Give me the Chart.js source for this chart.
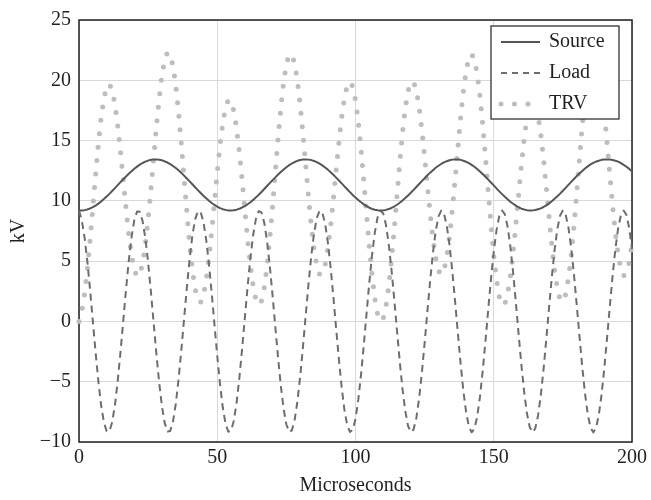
<!DOCTYPE html>
<html>
<head>
<meta charset="utf-8">
<script src="https://cdn.jsdelivr.net/npm/chart.js"></script>
<style>
html,body{margin:0;padding:0;background:#ffffff;}
canvas{display:block;}
</style>
</head>
<body>
<canvas id="c" width="651" height="500"></canvas>
<script>
// ---- data ----
const time = [0,1,2,3,4,5,6,7,8,9,10,11,12,13,14,15,16,17,18,19,20,21,22,23,24,25,26,27,28,29,30,31,32,33,34,35,36,37,38,39,40,41,42,43,44,45,46,47,48,49,50,51,52,53,54,55,56,57,58,59,60,61,62,63,64,65,66,67,68,69,70,71,72,73,74,75,76,77,78,79,80,81,82,83,84,85,86,87,88,89,90,91,92,93,94,95,96,97,98,99,100,101,102,103,104,105,106,107,108,109,110,111,112,113,114,115,116,117,118,119,120,121,122,123,124,125,126,127,128,129,130,131,132,133,134,135,136,137,138,139,140,141,142,143,144,145,146,147,148,149,150,151,152,153,154,155,156,157,158,159,160,161,162,163,164,165,166,167,168,169,170,171,172,173,174,175,176,177,178,179,180,181,182,183,184,185,186,187,188,189,190,191,192,193,194,195,196,197,198,199,200];

const source = [9.20,9.20,9.23,9.29,9.37,9.48,9.61,9.77,9.95,10.15,
10.36,10.58,10.82,11.06,11.30,11.55,11.79,12.02,12.25,12.46,
12.66,12.84,13.00,13.14,13.25,13.34,13.40,13.43,13.44,13.41,
13.36,13.28,13.18,13.05,12.89,12.72,12.53,12.32,12.09,11.86,
11.62,11.38,11.13,10.89,10.65,10.42,10.21,10.01,9.82,9.66,
9.52,9.40,9.31,9.25,9.21,9.20,9.22,9.27,9.34,9.45,
9.57,9.72,9.89,10.08,10.29,10.51,10.74,10.98,11.23,11.47,
11.72,11.95,12.18,12.40,12.60,12.79,12.96,13.10,13.22,13.32,
13.39,13.43,13.44,13.42,13.38,13.31,13.21,13.09,12.94,12.77,
12.59,12.38,12.16,11.93,11.69,11.45,11.20,10.96,10.72,10.49,
10.27,10.07,9.88,9.71,9.56,9.43,9.33,9.26,9.22,9.20,
9.21,9.25,9.32,9.41,9.53,9.68,9.84,10.03,10.23,10.45,
10.67,10.91,11.15,11.40,11.64,11.88,12.12,12.34,12.54,12.74,
12.91,13.06,13.19,13.29,13.37,13.42,13.44,13.43,13.40,13.33,
13.24,13.13,12.99,12.83,12.64,12.44,12.23,12.00,11.76,11.52,
11.28,11.03,10.79,10.56,10.34,10.13,9.93,9.76,9.60,9.47,
9.36,9.28,9.23,9.20,9.21,9.24,9.30,9.38,9.49,9.63,
9.79,9.97,10.17,10.38,10.60,10.84,11.08,11.33,11.57,11.81,
12.05,12.27,12.48,12.68,12.86,13.02,13.15,13.26,13.33,13.40,
13.43,13.44,13.43,13.39,13.33,13.25,13.13,12.99,12.83,12.65,
12.46];

const load = [9.20,8.40,6.99,5.02,2.64,0.04,-2.56,-4.95,-6.94,-8.36,
-9.11,-9.11,-8.36,-6.94,-4.95,-2.56,0.04,2.64,5.02,6.99,
8.40,9.12,9.09,8.33,6.89,4.89,2.48,-0.12,-2.71,-5.09,
-7.04,-8.43,-9.13,-9.08,-8.30,-6.84,-4.82,-2.41,0.20,2.79,
5.15,7.10,8.46,9.14,9.07,8.26,6.78,4.75,2.33,-0.28,
-2.86,-5.22,-7.14,-8.49,-9.15,-9.06,-8.23,-6.73,-4.68,-2.26,
0.36,2.94,5.28,7.19,8.52,9.15,9.04,8.19,6.68,4.61,
2.18,-0.44,-3.01,-5.35,-7.24,-8.55,-9.16,-9.03,-8.16,-6.62,
-4.55,-2.10,0.51,3.09,5.41,7.29,8.58,9.17,9.01,8.12,
6.56,4.48,2.02,-0.59,-3.16,-5.47,-7.34,-8.61,-9.17,-8.99,
-8.08,-6.51,-4.41,-1.95,0.67,3.24,5.54,7.39,8.64,9.18,
8.98,8.04,6.45,4.34,1.87,-0.75,-3.31,-5.60,-7.43,-8.66,
-9.18,-8.96,-8.00,-6.40,-4.27,-1.79,0.83,3.38,5.66,7.48,
8.69,9.19,8.94,7.96,6.34,4.20,1.71,-0.91,-3.46,-5.73,
-7.53,-8.71,-9.19,-8.92,-7.92,-6.28,-4.13,-1.64,0.99,3.53,
5.79,7.57,8.74,9.20,8.90,7.88,6.23,4.06,1.56,-1.07,
-3.60,-5.85,-7.62,-8.76,-9.20,-8.88,-7.84,-6.16,-3.99,-1.48,
1.14,3.68,5.91,7.66,8.79,9.20,8.86,7.80,6.11,3.91,
1.40,-1.22,-3.75,-5.97,-7.70,-8.81,-9.20,-8.84,-7.76,-6.05,
-3.84,-1.32,1.30,3.82,6.03,7.75,8.83,9.20,8.82,7.72,
5.99];

const trv = [0.00,0.80,2.24,4.27,6.73,9.44,12.17,14.72,16.89,18.51,
19.47,19.69,19.18,18.00,16.25,14.11,11.75,9.38,7.23,5.47,
4.26,3.72,3.91,4.81,6.36,8.45,10.92,13.55,16.15,18.50,
20.40,21.71,22.31,22.13,21.19,19.56,17.35,14.73,11.89,9.07,
6.47,4.28,2.67,1.75,1.58,2.16,3.43,5.26,7.49,9.94,
12.38,14.62,16.45,17.74,18.36,18.26,17.45,16.00,14.02,11.71,
9.21,6.78,4.61,2.89,1.77,1.36,1.70,2.79,4.55,6.86,
9.54,12.39,15.19,17.75,19.84,21.34,22.12,22.13,21.38,19.94,
17.94,15.53,12.93,10.33,7.97,6.02,4.63,3.92,3.93,4.65,
6.03,7.90,10.14,12.52,14.85,16.92,18.54,19.57,19.89,19.48,
18.35,16.58,14.29,11.66,8.89,6.19,3.79,1.87,0.58,0.02,
0.23,1.21,2.87,5.07,7.66,10.43,13.15,15.63,17.66,19.11,
19.85,19.87,19.15,17.80,15.91,13.67,11.29,8.96,6.88,5.26,
4.22,3.87,4.25,5.33,7.03,9.22,11.73,14.34,16.86,19.06,
20.77,21.84,22.18,21.75,20.56,18.72,16.36,13.64,10.77,7.99,
5.49,3.46,2.05,1.36,1.44,2.25,3.70,5.70,8.04,10.54,
12.96,15.13,16.85,17.96,18.41,18.12,17.14,15.54,13.48,11.11,
8.65,6.29,4.26,2.72,1.81,1.64,2.22,3.53,5.46,7.90,
10.65,13.49,16.23,18.65,20.56,21.83,22.35,22.10,21.09,19.45,
17.27,14.76,12.13,9.57,7.30,5.50,4.30,3.79,4.01,4.93,
6.47];

const seriesNames = ['Source', 'Load', 'TRV'];
const xTicks = [0, 50, 100, 150, 200];
const yTicks = [-10, -5, 0, 5, 10, 15, 20, 25];
const xTitle = 'Microseconds';
const yTitle = 'kV';

// ---- styles ----
const FONT = "'Liberation Serif', 'Times New Roman', serif";
const INK = '#231f20';
const GRID = '#d9d9d9';
const seriesStyles = [
  {borderColor: '#555555', borderWidth: 2, borderDash: [], borderCapStyle: 'butt', legendDash: []},
  {borderColor: '#6d6d6d', borderWidth: 2, borderDash: [7, 5], borderCapStyle: 'butt', legendDash: [6, 5]},
  {borderColor: '#bdbdbd', borderWidth: 5, borderDash: [0, 13.5], borderCapStyle: 'round', legendDash: [0, 13.5]}
];
const seriesValues = [source, load, trv];

function toPoints(values) {
  return time.map((t, i) => ({x: t, y: values[i]}));
}

const framePlugin = {
  id: 'frame',
  beforeDatasetsDraw(chart) {
    const a = chart.chartArea, ctx = chart.ctx;
    ctx.save();
    ctx.strokeStyle = INK;
    ctx.lineWidth = 1.5;
    ctx.strokeRect(a.left, a.top, a.right - a.left, a.bottom - a.top);
    ctx.restore();
  }
};

const boxLegend = {
  id: 'boxLegend',
  afterDatasetsDraw(chart) {
    const ctx = chart.ctx;
    const L = 491, T = 26, W = 128, H = 93;
    ctx.save();
    ctx.fillStyle = '#ffffff';
    ctx.fillRect(L, T, W, H);
    ctx.strokeStyle = INK;
    ctx.lineWidth = 1.2;
    ctx.strokeRect(L, T, W, H);
    chart.data.datasets.forEach((ds, i) => {
      const y = 42 + i * 31;
      const st = seriesStyles[i];
      ctx.save();
      ctx.strokeStyle = ds.borderColor;
      ctx.lineWidth = ds.borderWidth;
      ctx.setLineDash(st.legendDash);
      ctx.lineCap = ds.borderCapStyle;
      ctx.beginPath();
      ctx.moveTo(501, y);
      ctx.lineTo(540, y);
      ctx.stroke();
      ctx.restore();
      ctx.fillStyle = INK;
      ctx.font = '20px ' + FONT;
      ctx.textBaseline = 'middle';
      ctx.textAlign = 'left';
      ctx.fillText(ds.label, 549, y);
    });
    ctx.restore();
  }
};

new Chart(document.getElementById('c'), {
  type: 'line',
  data: {
    datasets: seriesNames.map((name, i) => Object.assign({
      label: name,
      data: toPoints(seriesValues[i]),
      pointRadius: 0,
      pointHoverRadius: 0,
      tension: 0,
      fill: false,
      clip: false,
      borderJoinStyle: 'round'
    }, seriesStyles[i]))
  },
  options: {
    responsive: false,
    animation: false,
    devicePixelRatio: 1,
    events: [],
    layout: {padding: {top: 12, right: 18, bottom: 0, left: 0}},
    plugins: {legend: {display: false}, tooltip: {enabled: false}},
    scales: {
      x: {
        type: 'linear',
        min: 0, max: 200,
        afterBuildTicks(s) { s.ticks = xTicks.map(v => ({value: v})); },
        afterFit(s) { s.height = 58; },
        ticks: {font: {family: FONT, size: 20}, color: INK, padding: 4, maxRotation: 0, autoSkip: false},
        grid: {color: GRID, lineWidth: 1, drawTicks: false},
        border: {display: false},
        title: {display: true, text: xTitle, font: {family: FONT, size: 20}, color: INK, padding: {top: 0, bottom: 2}}
      },
      y: {
        type: 'linear',
        min: -10, max: 25,
        afterBuildTicks(s) { s.ticks = yTicks.map(v => ({value: v})); },
        afterFit(s) { s.width = 79; },
        ticks: {
          font: {family: FONT, size: 20}, color: INK, padding: 8,
          callback: v => String(v).replace('-', '\u2212')
        },
        grid: {color: GRID, lineWidth: 1, drawTicks: false},
        border: {display: false},
        title: {display: true, text: yTitle, font: {family: FONT, size: 20}, color: INK, padding: {top: 7, bottom: 0}}
      }
    }
  },
  plugins: [framePlugin, boxLegend]
});
</script>
</body>
</html>
